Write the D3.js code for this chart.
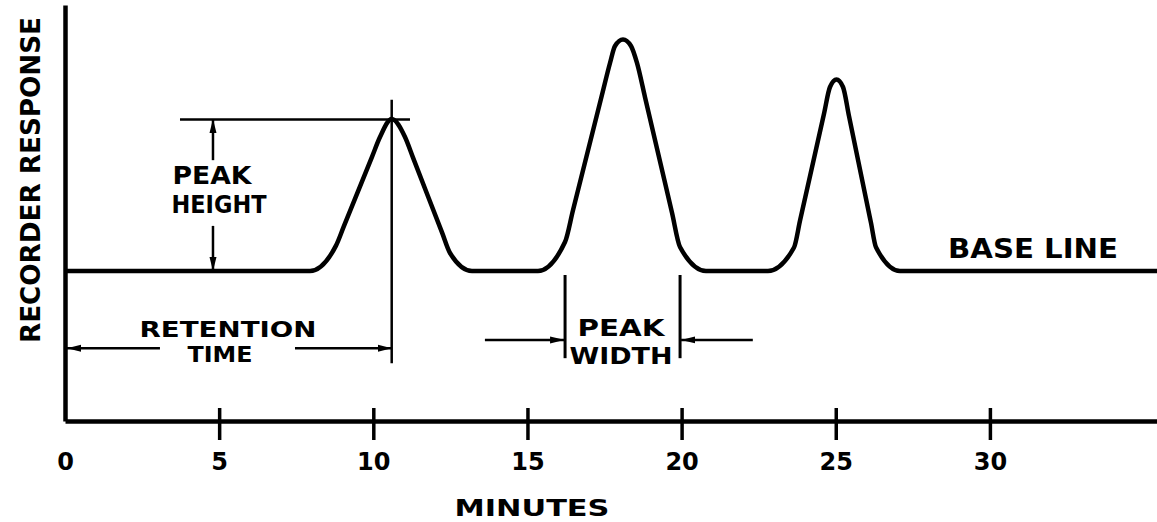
<!DOCTYPE html>
<html>
<head>
<meta charset="utf-8">
<script src="https://cdn.jsdelivr.net/npm/d3@7"></script>
<style>
  html, body { margin: 0; padding: 0; background: #fff; }
  svg { display: block; }
  text { font-family: "DejaVu Sans", "Liberation Sans", sans-serif; font-weight: bold; fill: #000; }
</style>
</head>
<body>
<script>
// ---- data (minutes vs. recorder response, arbitrary units) ----
const times = [0,
  7.947, 8.790, 9.050, 9.958, 10.217, 10.597, 11.028, 11.288, 12.228, 12.488, 13.201,
  15.342, 16.218, 16.477, 17.418, 17.678, 17.840, 18.099, 18.359, 18.553, 18.813, 19.689, 19.948, 20.791,
  22.802, 23.646, 23.840, 24.619, 24.813, 25.024, 25.235, 25.430, 26.143, 26.305, 27.084,
  35.42];
const response = [36.06,
  36.06, 42.16, 46.90, 63.51, 68.27, 72.60, 68.27, 63.32, 45.34, 40.38, 36.06,
  36.06, 43.03, 50.67, 78.41, 86.06, 90.14, 91.71, 90.14, 86.06, 77.84, 50.05, 41.83, 36.06,
  36.06, 41.71, 48.13, 73.85, 80.29, 82.09, 80.29, 73.29, 47.62, 41.78, 36.06,
  36.06];
const tickValues = [0, 5, 10, 15, 20, 25, 30];
const tickLabels = ["0", "5", "10", "15", "20", "25", "30"];
const xTitle = "MINUTES";
const yTitle = "RECORDER RESPONSE";
const baseLineLabel = "BASE LINE";
const retentionTime = 10.597;   // minutes, first peak
const peakTop = 72.6;           // response of first peak
const baseResponse = 36.06;
const widthStart = 16.22, widthEnd = 19.95; // peak width of second peak

const W = 1157, H = 522;
const svg = d3.select("body").append("svg").attr("width", W).attr("height", H);

const x = d3.scaleLinear().domain([0, 35.42]).range([65, 1157]);
const y = d3.scaleLinear().domain([0, 100]).range([421, 5]);

// arrow marker
const defs = svg.append("defs");
defs.append("marker").attr("id", "ah").attr("viewBox", "0 0 14 10")
  .attr("refX", 14).attr("refY", 5).attr("markerWidth", 14).attr("markerHeight", 10)
  .attr("markerUnits", "userSpaceOnUse").attr("orient", "auto")
  .append("path").attr("d", "M0,1.5 L14,5 L0,8.5 Z").attr("fill", "#000");

// axes
const xAxis = svg.append("g").attr("transform", `translate(0,${y(0)})`)
  .call(d3.axisBottom(x).tickValues(tickValues).tickFormat((d, i) => tickLabels[i]).tickSizeOuter(0).tickSize(0));
xAxis.select(".domain").attr("stroke", "#000").attr("stroke-width", 4.5);
xAxis.selectAll(".tick line").attr("y1", -13).attr("y2", 19).attr("stroke", "#000").attr("stroke-width", 3.5)
  .attr("display", d => d === 0 ? "none" : null);
xAxis.selectAll(".tick text").attr("y", 0).attr("dy", 0).attr("transform", "translate(0,49)")
  .style("font-size", "24px").style("font-family", "'DejaVu Sans', sans-serif").style("font-weight", "bold")
  .attr("fill", "#000");

const yAxis = svg.append("g").attr("transform", `translate(${x(0)},0)`)
  .call(d3.axisLeft(y).tickValues([]).tickSizeOuter(0));
yAxis.select(".domain").attr("stroke", "#000").attr("stroke-width", 4.5);

// chromatogram trace
const line = d3.line().x((d, i) => x(times[i])).y((d, i) => y(response[i])).curve(d3.curveMonotoneX);
svg.append("path").attr("d", line(response)).attr("fill", "none").attr("stroke", "#000")
  .attr("stroke-width", 4.5).attr("stroke-linejoin", "round");

const seg = (x1, y1, x2, y2, w, marker) => {
  const l = svg.append("line").attr("x1", x1).attr("y1", y1).attr("x2", x2).attr("y2", y2)
    .attr("stroke", "#000").attr("stroke-width", w || 2.5);
  if (marker) l.attr("marker-end", "url(#ah)");
  return l;
};
const label = (t, cx, by, size, len) => {
  const e = svg.append("text").attr("x", cx).attr("y", by).attr("text-anchor", "middle")
    .style("font-size", size + "px").text(t);
  if (len) e.attr("textLength", len).attr("lengthAdjust", "spacingAndGlyphs");
  return e;
};

// peak height annotation
seg(x(3.73), y(peakTop) + 0.5, x(11.19), y(peakTop) + 0.5, 2.5);
seg(x(retentionTime), y(77.2), x(retentionTime), y(13.9), 2.5);
seg(x(4.8), y(62.7), x(4.8), y(peakTop), 2.5, true);
seg(x(4.8), y(46.9), x(4.8), y(baseResponse), 2.5, true);
label("PEAK", 212, 184, 24, 79);
label("HEIGHT", 219, 213, 24, 95);

// retention time annotation
seg(x(3.08), y(17.5), x(0) + 2, y(17.5), 2.5, true);
seg(x(7.46), y(17.5), x(retentionTime), y(17.5), 2.5, true);
label("RETENTION", 228, 337, 21, 177);
label("TIME", 220, 362, 21, 65);

// peak width annotation
seg(x(widthStart), y(35.1), x(widthStart), y(15.1), 3);
seg(x(widthEnd), y(35.1), x(widthEnd), y(15.1), 3);
seg(x(13.62), y(19.5), x(widthStart) - 1, y(19.5), 2.5, true);
seg(x(22.31), y(19.5), x(widthEnd) + 1, y(19.5), 2.5, true);
label("PEAK", 621, 336, 23, 87);
label("WIDTH", 621, 364, 23, 103);

// base line label
label(baseLineLabel, 1033, 258, 26, 170);

// axis titles
label(xTitle, 532, 516, 23, 155);
svg.append("text").attr("transform", "translate(40,180) rotate(-90)").attr("text-anchor", "middle")
  .style("font-size", "26px").attr("textLength", 326).attr("lengthAdjust", "spacingAndGlyphs").text(yTitle);
</script>
</body>
</html>
